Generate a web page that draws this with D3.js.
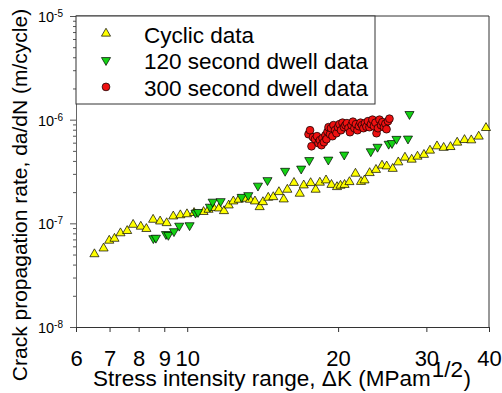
<!DOCTYPE html>
<html>
<head>
<meta charset="utf-8">
<script src="https://cdn.jsdelivr.net/npm/d3@7"></script>
<style>
  body { margin: 0; background: #fff; }
  svg { font-family: "Liberation Sans", Arial, sans-serif; }
</style>
</head>
<body>
<svg width="502" height="393"></svg>
<script>
// Cyclic data: stress intensity range (MPa m^1/2) and da/dN (m/cycle)
const cyclicK = [6.53, 6.81, 6.99, 7.16, 7.36, 7.59, 7.80, 8.08, 8.29, 8.55, 8.83, 9.10, 9.38, 9.69, 9.99,
  10.32, 10.78, 11.03, 11.28, 11.57, 11.84, 12.10, 12.36, 12.67, 13.04, 13.34, 13.65, 13.95, 14.16, 14.51,
  14.85, 15.24, 15.58, 15.84, 16.33, 16.77, 17.08, 17.63, 18.04, 18.39, 18.92, 19.40, 19.90, 20.22, 20.60,
  21.07, 21.66, 22.22, 22.58, 23.12, 23.80, 24.47, 25.00, 25.70, 26.37, 27.19, 28.04, 28.80, 29.67, 30.50,
  31.50, 32.48, 33.51, 34.56, 35.74, 36.87, 38.15, 39.45];
const cyclicRate = [5.05e-8, 5.74e-8, 6.82e-8, 7.12e-8, 8.04e-8, 8.46e-8, 9.71e-8, 9.31e-8, 8.85e-8, 1.086e-7,
  1.045e-7, 1.007e-7, 1.169e-7, 1.200e-7, 1.227e-7, 1.263e-7, 1.291e-7, 1.356e-7, 1.412e-7, 1.396e-7,
  1.315e-7, 1.492e-7, 1.632e-7, 1.694e-7, 1.732e-7, 1.694e-7, 1.632e-7, 1.437e-7, 1.606e-7, 1.771e-7,
  1.795e-7, 2.006e-7, 1.706e-7, 2.116e-7, 2.462e-7, 1.936e-7, 2.328e-7, 2.451e-7, 2.116e-7, 2.474e-7,
  2.603e-7, 2.355e-7, 2.243e-7, 2.314e-7, 2.355e-7, 2.506e-7, 3.021e-7, 2.518e-7, 2.603e-7, 3.062e-7,
  3.288e-7, 3.618e-7, 3.553e-7, 3.363e-7, 3.885e-7, 4.313e-7, 4.125e-7, 4.411e-7, 4.590e-7, 5.041e-7,
  5.546e-7, 5.364e-7, 5.461e-7, 6.021e-7, 6.380e-7, 6.338e-7, 6.882e-7, 8.333e-7];

// 120 second dwell data
const dwell120K = [8.56, 8.66, 9.07, 9.17, 9.41, 9.64, 10.11, 10.39, 10.51, 11.10, 11.24, 11.66, 12.84, 13.24,
  13.84, 14.46, 15.68, 16.88, 17.52, 19.12, 20.57, 23.24, 23.97, 25.23, 25.62, 26.15, 27.57, 27.76];
const dwell120Rate = [7.17e-8, 7.24e-8, 7.86e-8, 7.71e-8, 8.37e-8, 9.46e-8, 9.56e-8, 1.263e-7, 1.283e-7,
  1.443e-7, 1.613e-7, 1.632e-7, 1.795e-7, 1.865e-7, 2.303e-7, 2.603e-7, 3.201e-7, 3.363e-7, 4.061e-7,
  4.106e-7, 4.590e-7, 4.940e-7, 5.461e-7, 5.837e-7, 5.929e-7, 6.509e-7, 6.553e-7, 1.130e-6];

// 300 second dwell data
const dwell300K = [17.46, 17.58, 17.70, 17.82, 17.99, 18.15, 18.28, 18.40, 18.53, 18.62, 18.74, 18.87, 18.96,
  19.05, 19.14, 19.27, 19.36, 19.49, 19.58, 19.72, 19.85, 19.99, 20.13, 20.27, 20.41, 20.55, 20.69, 20.83,
  20.98, 21.12, 21.27, 21.41, 21.56, 21.71, 21.86, 22.01, 22.17, 22.32, 22.47, 22.63, 22.78, 22.94, 23.10,
  23.26, 23.42, 23.58, 23.75, 23.86, 24.02, 24.19, 24.36, 24.52, 24.69, 24.86, 24.98, 25.15, 25.32];
const dwell300Rate = [7.24e-7, 7.91e-7, 5.54e-7, 6.77e-7, 6.48e-7, 6.93e-7, 5.93e-7, 6.34e-7, 5.67e-7, 6.63e-7,
  6.06e-7, 7.08e-7, 6.48e-7, 7.66e-7, 8.46e-7, 7.24e-7, 8.28e-7, 6.93e-7, 8.85e-7, 7.91e-7, 7.40e-7,
  8.46e-7, 9.05e-7, 7.91e-7, 9.35e-7, 8.46e-7, 8.85e-7, 9.25e-7, 8.28e-7, 7.57e-7, 8.85e-7, 9.56e-7,
  8.28e-7, 9.05e-7, 7.91e-7, 8.65e-7, 9.35e-7, 8.85e-7, 8.28e-7, 9.25e-7, 8.56e-7, 9.67e-7, 8.46e-7,
  9.05e-7, 1.00e-6, 8.65e-7, 9.35e-7, 7.40e-7, 8.28e-7, 1.00e-6, 8.85e-7, 9.46e-7, 8.46e-7, 9.15e-7,
  8.09e-7, 9.67e-7, 1.022e-6];

const xTicks = [6, 7, 8, 9, 10, 20, 30, 40];
const yMajor = [1e-8, 1e-7, 1e-6, 1e-5];
const yExp = ["-8", "-7", "-6", "-5"];
const seriesNames = ["Cyclic data", "120 second dwell data", "300 second dwell data"];

const svg = d3.select('svg');
const margin = { top: 16, left: 76, right: 13, bottom: 66 };
const width = +svg.attr('width');
const height = +svg.attr('height');

const x = d3.scaleLog().domain([6, 40]).range([margin.left, width - margin.right]);
const y = d3.scaleLog().domain([1e-8, 1e-5]).range([height - margin.bottom, margin.top]);

const axisColor = '#333';

// minor y ticks
const yMinor = [];
yMajor.slice(0, 3).forEach(m => { for (let k = 2; k <= 9; k++) yMinor.push(m * k); });

const yMinorG = svg.append('g')
  .attr('transform', `translate(${margin.left},0)`)
  .call(d3.axisLeft(y).tickValues(yMinor).tickSize(3).tickFormat(''));
const yAxisG = svg.append('g')
  .attr('transform', `translate(${margin.left},0)`)
  .call(d3.axisLeft(y).tickValues(yMajor).tickSize(6).tickFormat(''));
[yMinorG, yAxisG].forEach(g => {
  g.selectAll('.domain').attr('stroke', '#666');
  g.selectAll('line').attr('stroke', '#555');
});

// y tick labels 10^n
const yLab = svg.append('g');
yMajor.forEach((v, i) => {
  const t = yLab.append('text')
    .attr('x', 63).attr('y', y(v) + 6)
    .attr('text-anchor', 'end')
    .attr('fill', '#000');
  t.append('tspan').attr('font-size', 14.5).text('10');
  t.append('tspan').attr('font-size', 10).attr('dy', -5).text(yExp[i]);
});

// x axis
const xAxisG = svg.append('g')
  .attr('transform', `translate(0,${height - margin.bottom})`)
  .call(d3.axisBottom(x).tickValues(xTicks).tickFormat(d3.format('d')).tickSize(5).tickPadding(18));
xAxisG.selectAll('.domain').attr('stroke', axisColor);
xAxisG.selectAll('line').attr('stroke', axisColor);
xAxisG.selectAll('text').attr('font-size', 22).attr('font-family', null).attr('fill', '#000');

// top and right frame
svg.append('path')
  .attr('d', `M${margin.left},${margin.top}H${width - margin.right}V${height - margin.bottom}`)
  .attr('fill', 'none').attr('stroke', axisColor);

// x axis title, in three pieces so the superscript and closing bracket sit right
const titleG = svg.append('g').attr('font-size', 22.5).attr('fill', '#000');
const xt1 = titleG.append('text').attr('x', 93).attr('y', 386)
  .text('Stress intensity range, \u0394K (MPam');
const w1 = xt1.node().getComputedTextLength();
const xt2 = titleG.append('text').attr('x', 93 + w1 + 1).attr('y', 377).text('1/2');
const w2 = xt2.node().getComputedTextLength();
titleG.append('text').attr('x', 93 + w1 + w2 + 1.5).attr('y', 386).text(')');

svg.append('text')
  .attr('transform', 'translate(27,195) rotate(-90)')
  .attr('text-anchor', 'middle')
  .attr('font-size', 21)
  .text('Crack propagation rate, da/dN (m/cycle)');

// markers
const triUp = d3.symbol().type(d3.symbolTriangle).size(36);
const marks = svg.append('g');

const drawTri = (K, R, fill, down) => {
  marks.append('g').selectAll('path')
    .data(d3.zip(K, R))
    .enter().append('path')
      .attr('d', triUp)
      .attr('transform', d => `translate(${x(d[0])},${y(d[1])})${down ? ' rotate(180)' : ''}`)
      .attr('fill', fill)
      .attr('stroke', '#000')
      .attr('stroke-width', 0.7);
};

drawTri(cyclicK, cyclicRate, '#ffff00', false);
drawTri(dwell120K, dwell120Rate, '#14d214', true);

marks.append('g').selectAll('circle')
  .data(d3.zip(dwell300K, dwell300Rate))
  .enter().append('circle')
    .attr('cx', d => x(d[0]))
    .attr('cy', d => y(d[1]))
    .attr('r', 3.9)
    .attr('fill', '#ee1111')
    .attr('stroke', '#000')
    .attr('stroke-width', 0.7);

// legend
const lg = svg.append('g');
lg.append('rect')
  .attr('x', margin.left).attr('y', margin.top)
  .attr('width', 299).attr('height', 88)
  .attr('fill', '#fff').attr('stroke', axisColor);

const legendFill = ['#ffff00', '#14d214', '#ee1111'];
seriesNames.forEach((name, i) => {
  const cy = 33.5 + i * 26.7;
  if (i < 2) {
    lg.append('path')
      .attr('d', triUp)
      .attr('transform', `translate(106,${cy})${i === 1 ? ' rotate(180)' : ''}`)
      .attr('fill', legendFill[i]).attr('stroke', '#000').attr('stroke-width', 0.7);
  } else {
    lg.append('circle')
      .attr('cx', 106).attr('cy', cy).attr('r', 3.9)
      .attr('fill', legendFill[i]).attr('stroke', '#000').attr('stroke-width', 0.7);
  }
  lg.append('text')
    .attr('x', 144).attr('y', cy + 9)
    .attr('font-size', 22.5)
    .text(name);
});
</script>
</body>
</html>
